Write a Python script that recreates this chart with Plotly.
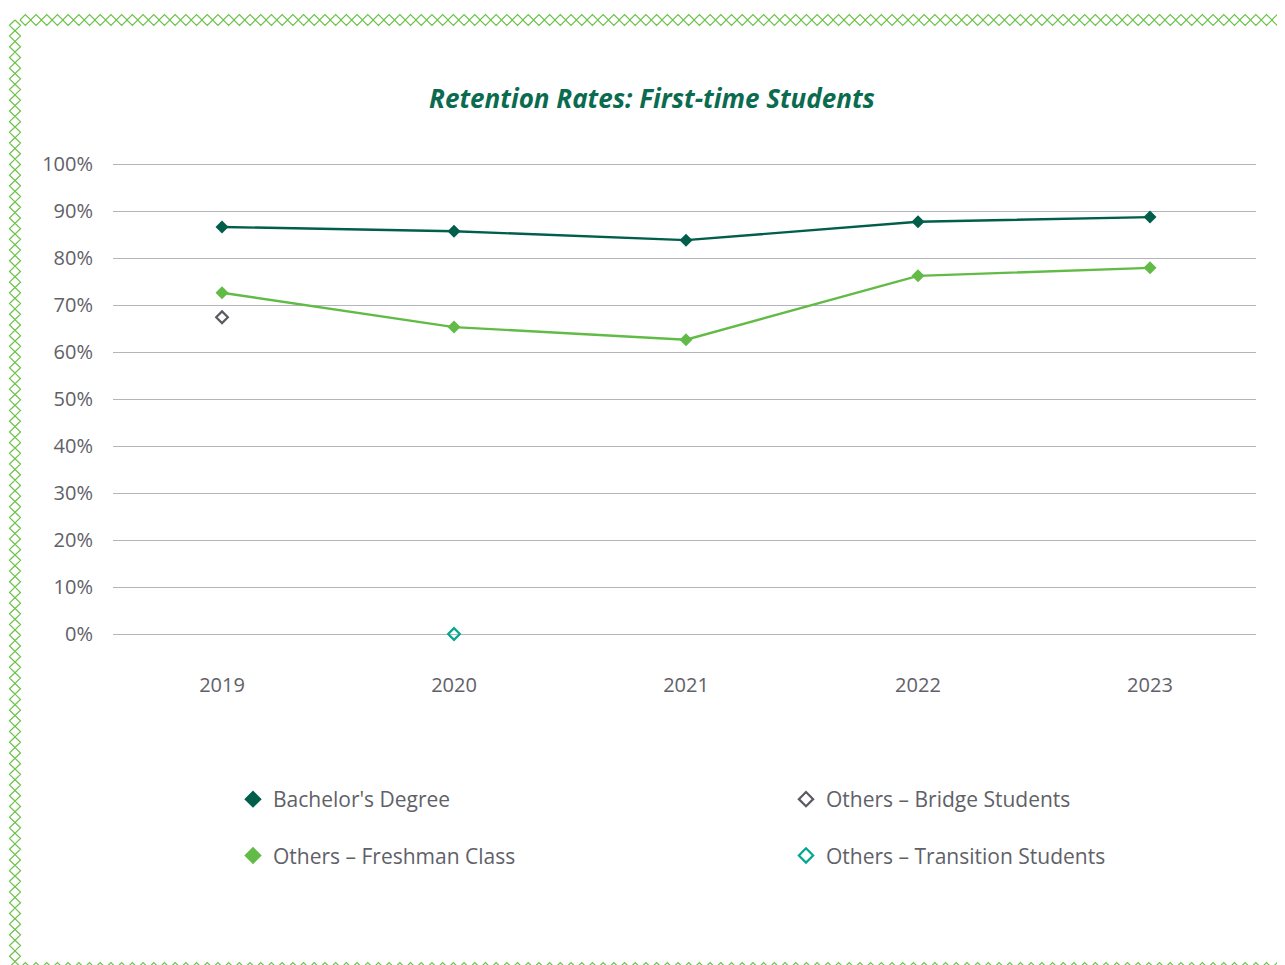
import plotly.graph_objects as go

W, H = 1285, 965
OFF = 8  # page body margin

years = [2019, 2020, 2021, 2022, 2023]
bachelors = [86.6, 85.7, 83.8, 87.7, 88.7]
freshman = [72.6, 65.3, 62.6, 76.2, 77.9]
bridge_years = [2019]
bridge = [67.4]
transition_years = [2020]
transition = [0.0]
ytick_vals = list(range(0, 101, 10))
ytick_text = [f"{v}%" for v in ytick_vals]

DARK = "#005e4b"
LIGHT = "#62bb46"
GRAY = "#5a5a62"
TEAL = "#00a88e"
BORDER = "#6cc24a"
TXT = "#5f6168"
FONT = "Open Sans"


def px(x):
    # page pixel -> paper fraction
    return (x - OFF) / W


def py(y):
    return 1 - (y - OFF) / H


def chain(points_fn, n):
    # zigzag outline of a chain of touching diamonds
    up, down = [], []
    for i in range(n):
        a, b, c, d = points_fn(i)
        up += [a, b]
        down += [c, d]
    return ["M " + " L ".join(f"{x:.5f},{y:.5f}" for x, y in pts) for pts in (up, down)]


step, half = 10.7, 5.5
paths = []
x0 = 20.0
n = int((W + OFF - x0) / step) + 2
for yc in (20.0, 968.0):
    paths += chain(lambda i, yc=yc: ((px(x0 + i * step), py(yc)), (px(x0 + i * step + step / 2), py(yc - half)),
                                     (px(x0 + i * step), py(yc)), (px(x0 + i * step + step / 2), py(yc + half))), n)
xc, y0 = 15.0, 20.0
m = int((H + OFF - y0) / step) + 2
paths += chain(lambda i: ((px(xc), py(y0 + i * step)), (px(xc - half), py(y0 + i * step + step / 2)),
                          (px(xc), py(y0 + i * step)), (px(xc + half), py(y0 + i * step + step / 2))), m)

shapes = [dict(type="path", path=p, xref="paper", yref="paper",
               line=dict(color=BORDER, width=1.2)) for p in paths]

fig = go.Figure()
fig.add_trace(go.Scatter(x=years, y=bachelors, mode="lines+markers", showlegend=False,
                         line=dict(color=DARK, width=2.4),
                         marker=dict(symbol="diamond", size=10, color=DARK)))
fig.add_trace(go.Scatter(x=years, y=freshman, mode="lines+markers", showlegend=False,
                         line=dict(color=LIGHT, width=2.4),
                         marker=dict(symbol="diamond", size=10, color=LIGHT)))
fig.add_trace(go.Scatter(x=bridge_years, y=bridge, mode="markers", showlegend=False,
                         marker=dict(symbol="diamond-open", size=9, color=GRAY, line=dict(width=2.2))))
fig.add_trace(go.Scatter(x=transition_years, y=transition, mode="markers", showlegend=False,
                         cliponaxis=False,
                         marker=dict(symbol="diamond-open", size=9, color=TEAL, line=dict(width=2.2))))

# legend entries (marker only)
legend_items = [
    ("Bachelor's Degree", "diamond", DARK, "legend", "a"),
    ("Others – Freshman Class", "diamond", LIGHT, "legend", "b"),
    ("Others – Bridge Students", "diamond-open", GRAY, "legend2", "c"),
    ("Others – Transition Students", "diamond-open", TEAL, "legend2", "d"),
]
for name, sym, col, leg, grp in legend_items:
    fig.add_trace(go.Scatter(x=[None], y=[None], mode="markers", name=name, legend=leg,
                             legendgroup=grp,
                             marker=dict(symbol=sym, size=11, color=col, line=dict(width=2.2, color=col))))

grid = "#b4b5ba"
ppu = (634 - 164) / 100  # pixels per percent
leg_common = dict(xanchor="left", yanchor="top", orientation="v", tracegroupgap=26,
                  font=dict(size=21, color=TXT), bgcolor="rgba(0,0,0,0)", itemclick=False)
fig.update_layout(
    width=W, height=H,
    margin=dict(l=0, r=0, t=0, b=0, autoexpand=False),
    paper_bgcolor="white", plot_bgcolor="white",
    font=dict(family=FONT, color=TXT, size=19),
    title=dict(text="<b><i>Retention Rates: First-time Students</i></b>",
               x=(652 - OFF) / W, y=1 - (99 - OFF) / H, xanchor="center", yanchor="middle",
               font=dict(family=FONT, size=26, color="#0b6b50")),
    xaxis=dict(domain=[px(113), px(1256)], range=[2018.53, 2023.457],
               tickvals=years, ticktext=[str(y) for y in years],
               showgrid=False, zeroline=False, showline=False,
               ticklabelstandoff=35, tickfont=dict(size=20, color=TXT)),
    yaxis=dict(domain=[py(634 + 0.5 * ppu), py(164 - 0.5 * ppu)], range=[-0.5, 100.5],
               tickvals=ytick_vals, ticktext=ytick_text,
               showgrid=True, gridcolor=grid, gridwidth=1,
               zeroline=True, zerolinecolor=grid, zerolinewidth=1,
               showline=False, ticklabelstandoff=19, tickfont=dict(size=20, color=TXT)),
    legend=dict(x=px(233), y=py(779), **leg_common),
    legend2=dict(x=px(786), y=py(779), **leg_common),
    shapes=shapes,
)

fig.write_html("out.html")
